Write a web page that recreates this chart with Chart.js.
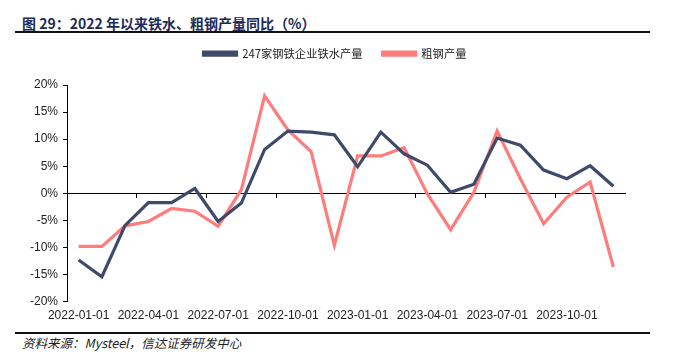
<!DOCTYPE html>
<html>
<head>
<meta charset="utf-8">
<script src="https://cdn.jsdelivr.net/npm/chart.js@4"></script>
<style>
  html, body { margin: 0; padding: 0; background: #fff; }
  body { width: 680px; height: 357px; position: relative; overflow: hidden; font-family: "Liberation Sans", Arial, sans-serif; }
  #title { position: absolute; left: 22px; top: 13px; font: bold 14px "Noto Sans CJK SC", serif; color: #1c2b5a; white-space: nowrap; line-height: 20px; }
  #topline { position: absolute; left: 15px; width: 635px; top: 31px; height: 2px; background: #111; }
  #botline { position: absolute; left: 15px; width: 635px; top: 332px; height: 2px; background: #111; }
  #source { position: absolute; left: 22px; top: 335px; font: italic 12.5px "Noto Sans CJK SC", sans-serif; color: #222; white-space: nowrap; line-height: 16px; }
  #wrap { position: absolute; left: 0; top: 28px; width: 680px; height: 302px; }
</style>
</head>
<body>
<div id="title">图 29：2022 年以来铁水、粗钢产量同比（%）</div>
<div id="topline"></div>
<div id="wrap"><canvas id="c"></canvas></div>
<div id="botline"></div>
<div id="source">资料来源：Mysteel，信达证券研发中心</div>
<script>
const categories = [
  '2022-01-01','2022-02-01','2022-03-01','2022-04-01','2022-05-01','2022-06-01',
  '2022-07-01','2022-08-01','2022-09-01','2022-10-01','2022-11-01','2022-12-01',
  '2023-01-01','2023-02-01','2023-03-01','2023-04-01','2023-05-01','2023-06-01',
  '2023-07-01','2023-08-01','2023-09-01','2023-10-01','2023-11-01','2023-12-01'
];
const ironOutput = [-12.3, -15.4, -5.9, -1.7, -1.7, 0.9, -5.2, -1.8, 8.1, 11.5, 11.3, 10.8,
                    4.9, 11.3, 7.3, 5.2, 0.2, 1.7, 10.2, 8.9, 4.3, 2.7, 5.1, 1.3];
const crudeSteel = [-9.8, -9.8, -6.0, -5.2, -2.8, -3.3, -6.1, 0.7, 18.0, 11.7, 7.7, -9.6,
                    6.9, 6.9, 8.4, -0.1, -6.7, 0.2, 11.5, 2.7, -5.6, -0.7, 2.1, -13.6];
const seriesNames = ['247家钢铁企业铁水产量', '粗钢产量'];
const yTicks = { min: -20, max: 20, step: 5 };

const NAVY = '#3f4a6b';
const PINK = '#ff7c7c';

const legendHeight = {
  id: 'legendHeight',
  beforeInit(chart) {
    const fit = chart.legend.fit;
    chart.legend.fit = function () {
      fit.call(this);
      this.height = 57;
    };
  }
};

new Chart(document.getElementById('c'), {
  type: 'line',
  data: {
    labels: categories,
    datasets: [
      { label: seriesNames[0], data: ironOutput, borderColor: NAVY, backgroundColor: NAVY,
        borderWidth: 3.2, pointRadius: 0, tension: 0, xAxisID: 'x' },
      { label: seriesNames[1], data: crudeSteel, borderColor: PINK, backgroundColor: PINK,
        borderWidth: 3.2, pointRadius: 0, tension: 0, xAxisID: 'x' }
    ]
  },
  options: {
    responsive: true,
    maintainAspectRatio: false,
    animation: false,
    layout: { padding: { left: 0, right: 10, top: 0, bottom: 0 } },
    plugins: {
      tooltip: { enabled: false },
      legend: {
        position: 'top',
        labels: {
          boxWidth: 33, boxHeight: 3, padding: 20,
          color: '#222',
          font: { family: '"Noto Sans CJK SC", "Liberation Sans", sans-serif', size: 11.3 }
        }
      }
    },
    scales: {
      x: {
        type: 'category',
        position: 'bottom',
        offset: true,
        grid: { display: false, drawTicks: false },
        border: { display: false },
        ticks: {
          autoSkip: false, maxRotation: 0, padding: 7,
          color: '#222',
          font: { family: '"Liberation Sans", Arial, sans-serif', size: 12 },
          callback: function (v, i) { return i % 3 === 0 ? categories[i] : ''; }
        },
        afterFit(scale) { scale.height = 28.3; }
      },
      x2: {
        type: 'category',
        labels: categories,
        position: { y: 0 },
        offset: true,
        grid: {
          offset: true, drawOnChartArea: false, drawTicks: true, tickLength: 4,
          color: (ctx) => (ctx.index % 3 === 0 ? '#000' : 'rgba(0,0,0,0)'),
          lineWidth: 1
        },
        border: { display: true, color: '#000', width: 1 },
        ticks: { display: false, autoSkip: false }
      },
      y: {
        min: yTicks.min, max: yTicks.max,
        grid: { drawOnChartArea: false, drawTicks: true, tickLength: 4, color: '#000' },
        border: { display: true, color: '#000', width: 1 },
        ticks: {
          stepSize: yTicks.step, padding: 5, color: '#222',
          font: { family: '"Liberation Sans", Arial, sans-serif', size: 12 },
          callback: (v) => v + '%'
        },
        afterFit(scale) { scale.width = 67; }
      },
      ySpacer: {
        position: 'right',
        min: yTicks.min, max: yTicks.max,
        grid: { display: false, drawTicks: false },
        border: { display: false },
        ticks: { display: false },
        afterFit(scale) { scale.width = 45; }
      }
    }
  },
  plugins: [legendHeight]
});
</script>
</body>
</html>
